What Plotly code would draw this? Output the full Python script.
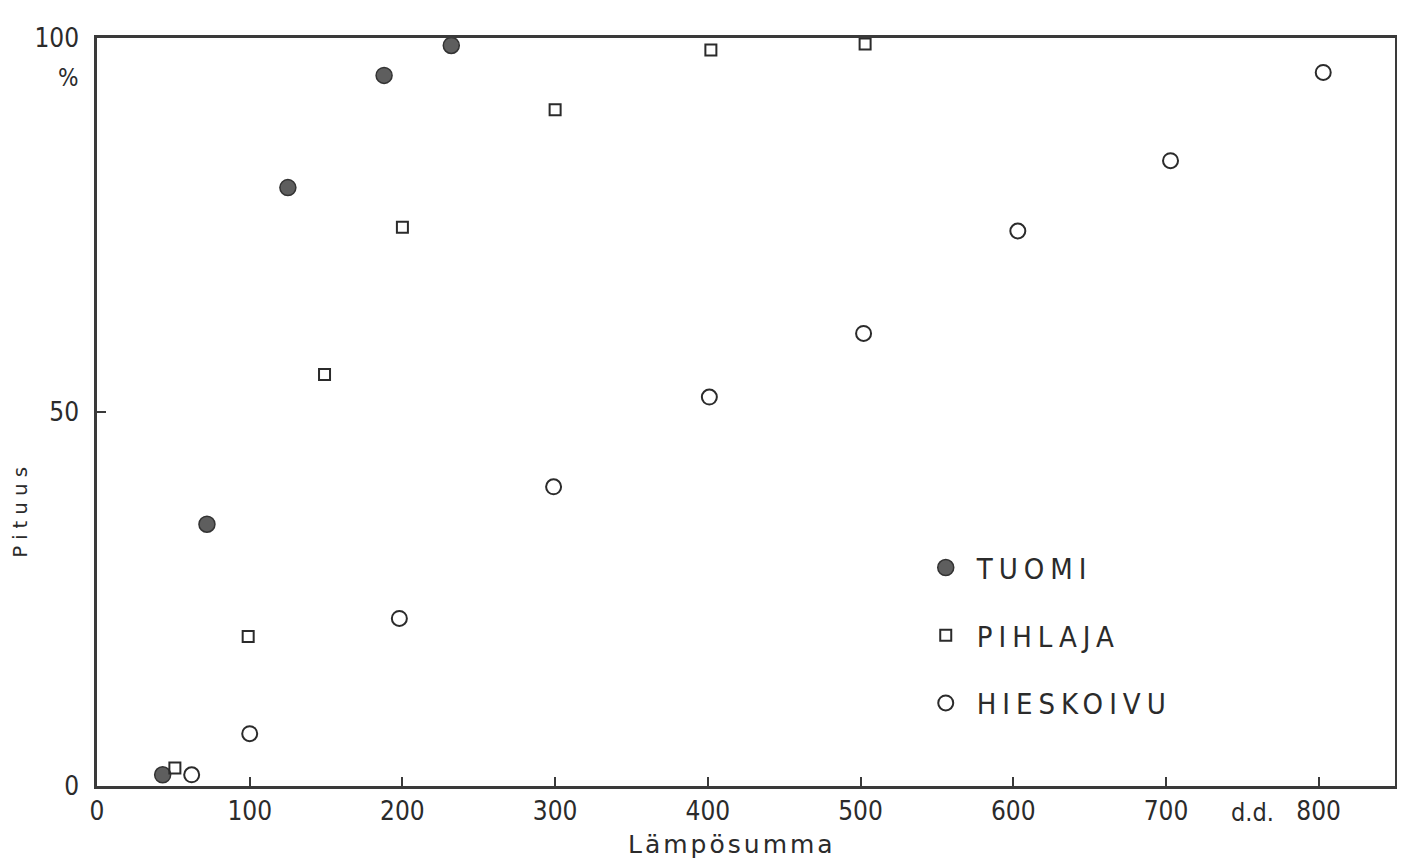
import plotly.graph_objects as go

# Data (lämpösumma d.d., pituus %)
tuomi_x = [43, 72, 125, 188, 232]
tuomi_y = [1.5, 35, 80, 95, 99]

pihlaja_x = [51, 99, 149, 200, 300, 402, 503]
pihlaja_y = [2.4, 20, 55, 74.7, 90.4, 98.4, 99.2]

hieskoivu_x = [62, 100, 198, 299, 401, 502, 603, 703, 803]
hieskoivu_y = [1.5, 7, 22.4, 40, 52, 60.5, 74.2, 83.6, 95.4]

x_ticks = [0, 100, 200, 300, 400, 500, 600, 700, 800]
y_ticks = [0, 50, 100]

INK = "#2b2b2b"
FONT = "Liberation Sans Narrow, DejaVu Sans Condensed, Liberation Sans, sans-serif"


def spaced(t, px):
    return f'<span style="letter-spacing:{px}px">{t}</span>'


fig = go.Figure()
fig.add_trace(go.Scatter(
    x=tuomi_x, y=tuomi_y, mode="markers", name=spaced("TUOMI", 6), legendgroup="a",
    marker=dict(symbol="circle", size=16, color="#5e5e5e",
                line=dict(color="#333333", width=1.5))))
fig.add_trace(go.Scatter(
    x=pihlaja_x, y=pihlaja_y, mode="markers", name=spaced("PIHLAJA", 6), legendgroup="b",
    marker=dict(symbol="square-open", size=11, color=INK,
                line=dict(width=2))))
fig.add_trace(go.Scatter(
    x=hieskoivu_x, y=hieskoivu_y, mode="markers", name=spaced("HIESKOIVU", 6), legendgroup="c",
    marker=dict(symbol="circle-open", size=15, color=INK,
                line=dict(width=2))))

fig.update_layout(
    width=1405, height=866,
    margin=dict(l=89, r=18, t=30, b=88),
    paper_bgcolor="white", plot_bgcolor="white",
    font=dict(family=FONT, color=INK, size=24),
    showlegend=True,
    legend=dict(x=0.63, y=0.326, xanchor="left", yanchor="top",
                bgcolor="rgba(0,0,0,0)", tracegroupgap=27,
                font=dict(size=29, family=FONT, color=INK),
                itemwidth=52),
    xaxis=dict(range=[0, 850], tickvals=x_ticks, ticktext=[str(v) for v in x_ticks],
               automargin=False,
               showgrid=False, zeroline=False, showline=True, mirror=True,
               linecolor="#3a3a3a", linewidth=2.5, ticks="inside", ticklen=9,
               tickwidth=1.5, tickcolor="#3a3a3a",
               tickfont=dict(size=26)),
    yaxis=dict(range=[0, 100], tickvals=y_ticks, ticktext=[str(v) for v in y_ticks],
               automargin=False, ticklabelstandoff=10,
               showgrid=False, zeroline=False, showline=True, mirror=True,
               linecolor="#3a3a3a", linewidth=2.5, ticks="inside", ticklen=9,
               tickwidth=1.5, tickcolor="#3a3a3a",
               tickfont=dict(size=26)),
)

# axis titles
fig.add_annotation(text=spaced("Lämpösumma", 3), x=0.489, y=-0.078,
                   xref="paper", yref="paper", showarrow=False,
                   font=dict(size=25, family="DejaVu Sans, sans-serif", color=INK),
                   xanchor="center", yanchor="middle")
fig.add_annotation(text=spaced("Pituus", 6), x=-0.059, y=0.37, textangle=-90,
                   xref="paper", yref="paper", showarrow=False,
                   font=dict(size=20, family="DejaVu Sans, sans-serif", color=INK),
                   xanchor="center", yanchor="middle")

fig.add_annotation(text="%", x=-0.022, y=0.947, xref="paper", yref="paper",
                   showarrow=False, font=dict(size=24, color=INK),
                   xanchor="center", yanchor="middle")
fig.add_annotation(text="d.d.", x=757, y=-0.036, xref="x", yref="paper",
                   showarrow=False, font=dict(size=25, color=INK),
                   xanchor="center", yanchor="middle")

fig.write_html("out.html")
